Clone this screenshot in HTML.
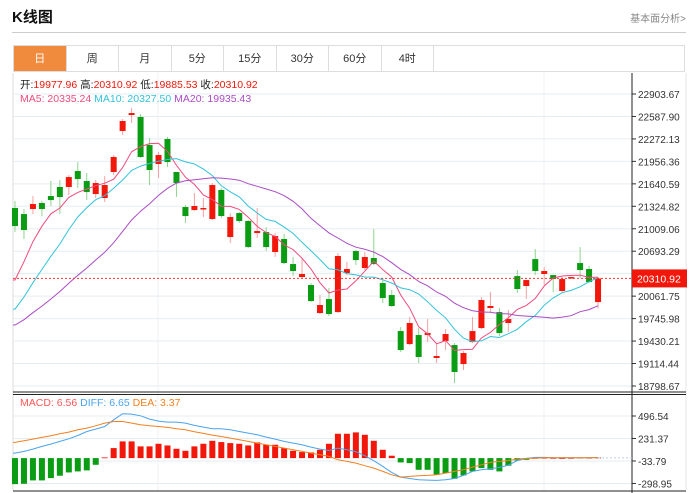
<!DOCTYPE html>
<html><head><meta charset="utf-8">
<style>
body{margin:0;background:#fff;font-family:"Liberation Sans","Noto Sans CJK SC",sans-serif;}
#wrap{position:relative;width:698px;height:493px;overflow:hidden;}
.title{position:absolute;left:12px;top:6px;font-size:15px;font-weight:bold;color:#111;}
.more{position:absolute;right:12px;top:10px;font-size:10px;color:#888;}
.hr{position:absolute;left:12px;top:32px;width:674px;height:1px;background:#ccc;}
.tabs{position:absolute;left:13px;top:45px;width:672px;height:27px;border:1px solid #ddd;box-sizing:border-box;display:flex;}
.tab{width:52.5px;height:100%;border-right:1px solid #ddd;box-sizing:border-box;font-size:11px;color:#333;text-align:center;line-height:26px;}
.tab.on{background:#f08a3c;color:#fff;}
svg{position:absolute;left:0;top:0;}
</style></head><body>
<div id="wrap">
<div class="title">K线图</div>
<div class="more">基本面分析&gt;</div>
<div class="hr"></div>
<div class="tabs">
<div class="tab on">日</div>
<div class="tab">周</div>
<div class="tab">月</div>
<div class="tab">5分</div>
<div class="tab">15分</div>
<div class="tab">30分</div>
<div class="tab">60分</div>
<div class="tab">4时</div>
</div>
<svg id="chart" width="698" height="493"></svg>
</div>
<script>
const opens=[21301,21216,21287,21371,21469,21596,21596,21821,21680,21497,21441,21807,22383,22608,22580,22186,21919,22271,21807,21315,21272,21287,21146,21554,20893,21230,21118,20949,20963,20682,20865,20513,20330,20218,19824,20021,19838,20387,20696,20457,20598,20246,20077,19571,19388,19515,19515,19192,19431,19374,19107,19416,19613,19895,19838,19684,20344,20204,20583,20373,20358,20134,20316,20527,20443,19977.96];
const highs=[21399,21287,21469,21399,21680,21694,21765,21947,21793,21694,21750,22046,22552,22707,22622,22285,22088,22299,21807,21343,21511,21441,21652,21582,21230,21244,21132,21301,21033,20949,20935,20612,20598,20246,20077,20176,20668,20541,20710,20682,21005,20316,20148,19627,19768,19613,19740,19402,19599,19402,19290,19768,20049,20119,19895,19866,20429,20288,20724,20471,20358,20330,20330,20752,20485,20330];
const lows=[20963,20865,21216,21188,21329,21216,21483,21582,21413,21441,21385,21765,22327,22496,22004,21624,21722,21877,21455,21090,21258,21174,21132,21160,20808,21090,20738,20879,20696,20612,20513,20344,20316,19979,19810,19782,19824,20358,20499,20429,20499,19965,19909,19276,19374,19121,19416,19121,19304,18840,19023,19402,19599,19838,19501,19557,20105,20021,20358,20218,20119,20119,20316,20316,20246,19885.53];
const closes=[21047,20991,21357,21287,21413,21455,21736,21708,21525,21652,21624,22018,22524,22636,22018,21835,22046,21947,21652,21188,21329,21301,21624,21188,21174,21118,20752,20977,20752,20907,20527,20415,20373,19993,19937,19810,20626,20443,20569,20612,20513,20035,19923,19304,19684,19206,19543,19220,19529,18995,19262,19571,20007,19923,19543,19740,20162,20288,20415,20415,20302,20302,20330,20429,20260,20310.92];
const priorCloses=[19500,19380,19450,19400,19350,19420,19480,19460,19400,19480,19300,19350,19420,19550,19740,19700,19950,20200,20543];
const macdHist=[-307,-303,-263,-263,-236,-208,-169,-157,-145,-79,8,118,197,197,138,138,169,149,110,86,138,169,204,189,177,169,149,185,157,157,118,86,71,67,98,169,287,287,303,275,204,98,28,-51,-59,-138,-138,-197,-177,-244,-204,-157,-118,-138,-157,-90,-28,-20,2,4,2,0,2,5,4,6.56];
const diffVals=[59,79,106,138,165,197,228,267,314,342,373,452,523,519,499,460,436,424,424,413,385,365,346,346,334,314,295,275,248,224,197,177,157,130,106,90,118,98,75,28,-31,-98,-169,-224,-240,-255,-259,-263,-255,-240,-204,-157,-138,-126,-110,-83,-28,-4,8,8,4,4,3,3,3,6.65];
const deaVals=[185,204,224,244,263,287,307,334,354,381,413,432,432,413,393,381,373,362,346,334,310,291,271,255,236,216,197,177,157,138,118,98,79,59,39,20,-20,-39,-59,-90,-118,-157,-197,-224,-216,-208,-204,-197,-177,-157,-138,-106,-79,-51,-39,-28,-12,-4,0,4,4,4,4,4,3,3.37];
const priceTicks=["22903.67","22587.90","22272.13","21956.36","21640.59","21324.82","21009.06","20693.29","20377.52","20061.75","19745.98","19430.21","19114.44","18798.67"];
const macdTicks=["496.54","231.37","-33.79","-298.95"];

const svg=document.getElementById('chart');
const NS='http://www.w3.org/2000/svg';
function mk(tag,attrs,parent){const e=document.createElementNS(NS,tag);for(const k in attrs)e.setAttribute(k,attrs[k]);(parent||svg).appendChild(e);return e;}
const yP=p=>94+(22903.67-p)/315.77*22.46;
const yM=v=>458.1-v/11.79;
const xI=i=>15+i*8.97;
const RED='#f2170b',GREEN='#0a9c12';

// grid
priceTicks.forEach((t,i)=>{const y=yP(+t);
 let l=mk('line',{x1:13,x2:632,y1:y,y2:y,stroke:'#e6edf2','stroke-width':1});
 
 let k=mk('line',{x1:632,x2:636,y1:y,y2:y,stroke:'#333'});
 
 let tx=mk('text',{x:638,y:y+4,'font-size':10,fill:'#333'});tx.textContent=t;
 
});
macdTicks.forEach(t=>{const y=yM(+t);
 let l=mk('line',{x1:13,x2:632,y1:y,y2:y,stroke:'#e6edf2'});
 
 let k=mk('line',{x1:632,x2:636,y1:y,y2:y,stroke:'#333'});
 
 let tx=mk('text',{x:638,y:y+4,'font-size':10,fill:'#333'});tx.textContent=t;
 
});
[158,544].forEach(x=>{let l=mk('line',{x1:x,x2:x,y1:73,y2:491,stroke:'#edf1f4'});
 });
let b;
b=mk('line',{x1:13,x2:13,y1:73,y2:491,stroke:'#ddd'});
b=mk('line',{x1:686,x2:686,y1:73,y2:491,stroke:'#e5e5e5'});
b=mk('line',{x1:13,x2:686,y1:392,y2:392,stroke:'#222'});
b=mk('line',{x1:13,x2:686,y1:394.5,y2:394.5,stroke:'#222'});
b=mk('line',{x1:13,x2:686,y1:491,y2:491,stroke:'#222'});
b=mk('line',{x1:632,x2:632,y1:73,y2:493,stroke:'#222'});

// candles
opens.forEach((o,i)=>{const c=closes[i],up=c>=o,x=xI(i);
 const w=mk('line',{x1:x,x2:x,y1:yP(highs[i]),y2:yP(lows[i]),stroke:up?'#f7a0a0':'#8fd48f','stroke-width':1});
 
 const t=yP(Math.max(o,c)),bt=yP(Math.min(o,c));
 const r=mk('rect',{x:x-3,y:t,width:6,height:Math.max(1.5,bt-t),fill:up?RED:GREEN});
 
});
// moving averages
const all=priorCloses.concat(closes);
function ma(n){return closes.map((_,i)=>{const j=i+priorCloses.length;let s=0;for(let k=j-n+1;k<=j;k++)s+=all[k];return s/n;});}
[[5,'#ee4b7c','ma5-line'],[10,'#32c3da','ma10-line'],[20,'#aa4cc4','ma20-line']].forEach(([n,col,name])=>{
 const v=ma(n);const d=v.map((p,i)=>(i?'L':'M')+xI(i).toFixed(1)+' '+yP(p).toFixed(1)).join(' ');
 const pth=mk('path',{d:'M13 '+yP(v[0]).toFixed(1)+' L'+d.slice(1),fill:'none',stroke:col,'stroke-width':1});
 
});
// last price line
const lp=closes[closes.length-1],ly=yP(lp);
b=mk('line',{x1:13,x2:632,y1:ly,y2:ly,stroke:'#f33','stroke-dasharray':'2,2'});
b=mk('rect',{x:632,y:ly-9,width:55,height:18,fill:'#f2170b'});
b=mk('text',{x:637,y:ly+4,'font-size':10.5,fill:'#fff'});b.textContent=lp.toFixed(2);

// MACD
macdHist.forEach((v,i)=>{const x=xI(i),y0=yM(0),y1=yM(v);
 const r=mk('rect',{x:x-3,y:Math.min(y0,y1),width:6,height:Math.max(0.8,Math.abs(y1-y0)),fill:v>=0?RED:GREEN});
 
});
[[diffVals,'#4aa3ee','diff-line'],[deaVals,'#f4801f','dea-line']].forEach(([arr,col,name])=>{
 const d=arr.map((v,i)=>(i?'L':'M')+xI(i).toFixed(1)+' '+yM(v).toFixed(1)).join(' ');
 const pth=mk('path',{d:'M13 '+yM(arr[0]).toFixed(1)+' L'+d.slice(1),fill:'none',stroke:col,'stroke-width':1});
 
});
b=mk('line',{x1:xI(65),x2:632,y1:yM(3.37),y2:yM(3.37),stroke:'#bcd','stroke-dasharray':'2,2'});

// legends
function txt(parts,y,name){const t=mk('text',{x:20,y:y,'font-size':10.5});
 parts.forEach(([s,c])=>{const ts=mk('tspan',{fill:c},t);ts.textContent=s;});}
txt([['开:','#222'],['19977.96  ','#f2170b'],['高:','#222'],['20310.92  ','#f2170b'],['低:','#222'],['19885.53  ','#f2170b'],['收:','#222'],['20310.92','#f2170b']],88,'ohlc-legend');
txt([['MA5: 20335.24   ','#ee4b7c'],['MA10: 20327.50   ','#32c3da'],['MA20: 19935.43','#aa4cc4']],102,'ma-legend');
txt([['MACD: 6.56   ','#f55'],['DIFF: 6.65   ','#4aa3ee'],['DEA: 3.37','#f4801f']],406,'macd-legend');
document.querySelectorAll('#chart text').forEach(t=>t.setAttribute('xml:space','preserve'));
</script>
</body></html>
